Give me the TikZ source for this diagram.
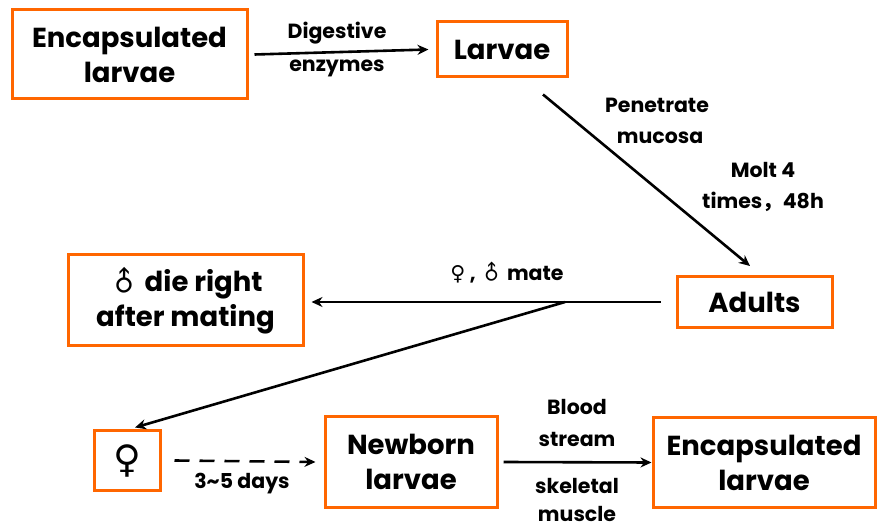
\documentclass[tikz,border=0pt]{standalone}
\usepackage{fontspec}
\setmainfont{Poppins}
\newfontfamily\symf{DejaVu Sans}
\newfontfamily\cjk{Noto Sans CJK SC}
\usetikzlibrary{arrows.meta}
\definecolor{boxorange}{RGB}{255,102,0}
\newcommand{\male}{{\symf\bfseries\rotatebox[origin=c]{45}{♂}}}
\newcommand{\female}{{\symf ♀}}
\tikzset{
  box/.style={draw=boxorange, line width=3pt, fill=white, align=center, inner sep=0pt,
    font=\bfseries\fontsize{27.5}{35}\selectfont},
  lbl/.style={align=center, inner sep=0pt, font=\bfseries\fontsize{20.5}{33}\selectfont},
  arr/.style={line width=2.6pt, -{Stealth[length=11pt,width=10pt]}},
}
\begin{document}
\begin{tikzpicture}[x=1pt,y=-1pt]
\useasboundingbox (0,0) rectangle (879,529);
\node[box, minimum width=235pt, minimum height=89pt] (enc1) at (129.5,54.5) {Encapsulated\\larvae};
\node[box, minimum width=130pt, minimum height=55pt] (larv) at (502,49.5) {Larvae};
\node[box, minimum width=155pt, minimum height=51pt] (adul) at (754.5,302) {Adults};
\node[box, minimum width=235pt, minimum height=91pt] (die) at (185.5,300) {\male\,die right\\after mating};
\node[box, minimum width=66pt, minimum height=59pt, font=\fontsize{38}{40}\selectfont] (fem) at (127,460.5) {\female};
\node[box, minimum width=172pt, minimum height=90pt] (newb) at (411,462) {Newborn\\larvae};
\node[box, minimum width=222pt, minimum height=89pt] (enc2) at (764,462.5) {Encapsulated\\larvae};
\coordinate (m) at (565,302);

\draw[arr] ([xshift=6]enc1.east) -- ([xshift=-7]larv.west);
\draw[arr] ([shift={(41,16)}]larv.south) -- ([shift={(-4.5,-9)}]adul.north);
\draw[line width=2.6pt] ([xshift=-15]adul.west) -- (m);
\draw[arr] (m) -- ([xshift=7]die.east |- m);
\draw[arr] (m) -- ([shift={(8,-2)}]fem.north);
\draw[arr, dash pattern=on 15pt off 10pt] ([xshift=13]fem.east) -- ([xshift=-8]newb.west);
\draw[arr] ([xshift=5]newb.east) -- (enc2.west);

\node[lbl] (l1) at (337,33) {Digestive};
\node[lbl] (l2) at (337,68) {enzymes};
\node[lbl] (l3) at (657,105) {Penetrate};
\node[lbl] (l4) at (660,138) {mucosa};
\node[lbl] (l5) at (763,170) {Molt 4};
\node[lbl] (l6) at (763,202) {times{\cjk ，}48h};
\node[lbl] (l7) at (507,273) {\female\ , \male\,mate};
\node[lbl] (l8) at (242,484) {3\textasciitilde 5 days};
\node[lbl] (l9) at (577,407) {Blood};
\node[lbl] (l10) at (577,439) {stream};
\node[lbl] (l11) at (577,486) {skeletal};
\node[lbl] (l12) at (577,514) {muscle};
\end{tikzpicture}
\end{document}
